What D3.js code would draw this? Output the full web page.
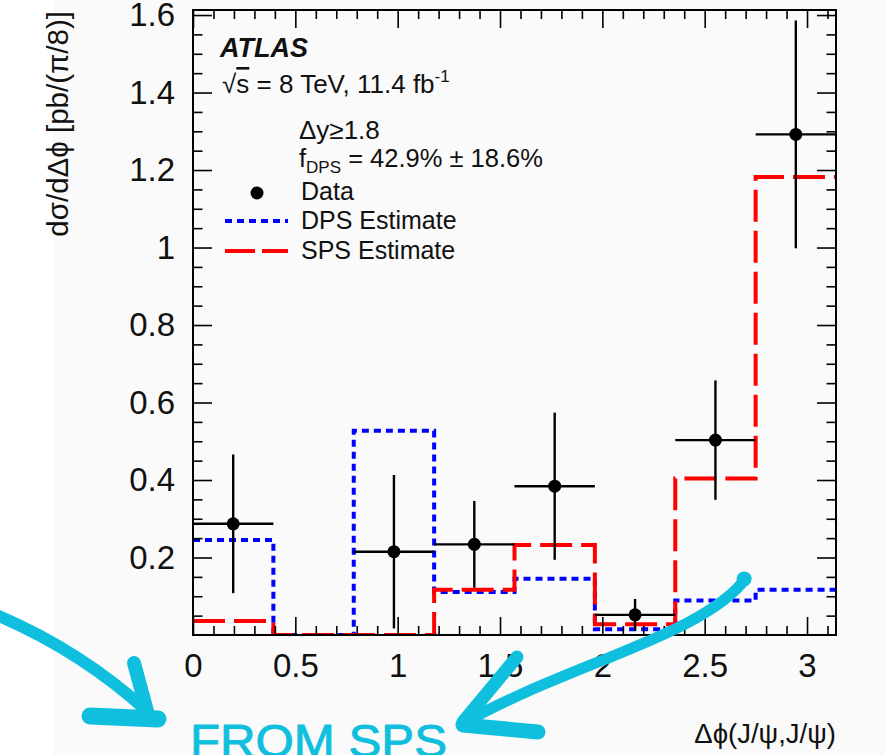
<!DOCTYPE html>
<html>
<head>
<meta charset="utf-8">
<script src="https://cdn.jsdelivr.net/npm/d3@7"></script>
<style>
  html, body { margin: 0; padding: 0; background: #ffffff; }
  svg { display: block; }
  text { font-family: "Liberation Sans", Arial, Helvetica, sans-serif; fill: #111; }
</style>
</head>
<body>
<svg id="chart" width="885" height="755"></svg>
<script>
// Δφ bins of width π/8 (lower edges)
const binLow = [0, 0.3927, 0.7854, 1.1781, 1.5708, 1.9635, 2.3562, 2.7489];
const binWidth = 0.3927;

// Measured cross section per bin (null = no point drawn)
const dataValues = [0.287, null, 0.215, 0.234, 0.384, 0.052, 0.503, 1.292];
const dataErrors = [0.179, null, 0.198, 0.112, 0.190, 0.041, 0.154, 0.294];

// Template estimates
const dpsValues = [0.245, 0, 0.527, 0.111, 0.145, 0.015, 0.089, 0.117];
const spsValues = [0.036, 0, 0, 0.117, 0.232, 0.028, 0.404, 1.182];

// Axis ticks and labels
const xMajor = [0, 0.5, 1, 1.5, 2, 2.5, 3];
const xTickLabels = ["0", "0.5", "1", "1.5", "2", "2.5", "3"];
const xMinor = [0.1, 0.2, 0.3, 0.4, 0.6, 0.7, 0.8, 0.9, 1.1, 1.2, 1.3, 1.4, 1.6, 1.7, 1.8, 1.9,
                2.1, 2.2, 2.3, 2.4, 2.6, 2.7, 2.8, 2.9, 3.1];
const yMajor = [0.2, 0.4, 0.6, 0.8, 1.0, 1.2, 1.4, 1.6];
const yTickLabels = ["0.2", "0.4", "0.6", "0.8", "1", "1.2", "1.4", "1.6"];
const yMinor = [0.05, 0.1, 0.15, 0.25, 0.3, 0.35, 0.45, 0.5, 0.55, 0.65, 0.7, 0.75, 0.85, 0.9, 0.95,
                1.05, 1.1, 1.15, 1.25, 1.3, 1.35, 1.45, 1.5, 1.55];

const svg = d3.select("#chart");
const L = 193, R = 836, T = 10, B = 635;

const x = d3.scaleLinear().domain([0, Math.PI]).range([L, R]);
const y = d3.scaleLinear().domain([0, 1.613]).range([B, T]);

// page background
svg.append("rect").attr("x", 0).attr("y", 0).attr("width", 885).attr("height", 755).attr("fill", "#ffffff");
svg.append("rect").attr("x", 53).attr("y", 0).attr("width", 832).attr("height", 755).attr("fill", "#fafafa");

svg.append("defs").append("clipPath").attr("id", "plotClip")
  .append("rect").attr("x", L).attr("y", T).attr("width", R - L).attr("height", B - T);

const plot = svg.append("g").attr("clip-path", "url(#plotClip)");

// step outline of a binned histogram
function stepPoints(values) {
  const pts = [];
  values.forEach((v, i) => {
    pts.push([x(binLow[i]), y(v)]);
    pts.push([x(binLow[i] + binWidth), y(v)]);
  });
  return pts;
}
const line = d3.line();

plot.append("path")
  .attr("d", line(stepPoints(dpsValues)))
  .attr("fill", "none").attr("stroke", "#0000ff").attr("stroke-width", 4)
  .attr("stroke-dasharray", "7 5");

plot.append("path")
  .attr("d", line(stepPoints(spsValues)))
  .attr("fill", "none").attr("stroke", "#ff0000").attr("stroke-width", 4)
  .attr("stroke-dasharray", "32 9");

// data points with error bars
const pts = dataValues.map((v, i) => ({ v, e: dataErrors[i], i })).filter(d => d.v !== null);
const dg = plot.append("g");
dg.selectAll("line.h").data(pts).join("line")
  .attr("x1", d => x(binLow[d.i])).attr("x2", d => x(binLow[d.i] + binWidth))
  .attr("y1", d => y(d.v)).attr("y2", d => y(d.v))
  .attr("stroke", "#000").attr("stroke-width", 2.4);
dg.selectAll("line.v").data(pts).join("line")
  .attr("x1", d => x(binLow[d.i] + binWidth / 2)).attr("x2", d => x(binLow[d.i] + binWidth / 2))
  .attr("y1", d => y(d.v + d.e)).attr("y2", d => y(Math.max(0, d.v - d.e)))
  .attr("stroke", "#000").attr("stroke-width", 2.4);
dg.selectAll("circle").data(pts).join("circle")
  .attr("cx", d => x(binLow[d.i] + binWidth / 2)).attr("cy", d => y(d.v))
  .attr("r", 6.5).attr("fill", "#000");

// axes with inward ticks on all four sides
function styleAxis(g) {
  g.select(".domain").remove();
  g.selectAll(".tick line").attr("stroke", "#000").attr("stroke-width", 1.6);
  g.selectAll("text").attr("font-size", 33).attr("fill", "#111")
    .attr("font-family", "Liberation Sans, Arial, sans-serif");
}
svg.append("g").attr("transform", `translate(0,${B})`)
  .call(d3.axisBottom(x).tickValues(xMajor).tickFormat((d, i) => xTickLabels[i])
    .tickSizeInner(-18).tickSizeOuter(0).tickPadding(19))
  .call(styleAxis);
svg.append("g").attr("transform", `translate(0,${B})`)
  .call(d3.axisBottom(x).tickValues(xMinor).tickFormat("").tickSizeInner(-9).tickSizeOuter(0))
  .call(styleAxis);
svg.append("g").attr("transform", `translate(0,${T})`)
  .call(d3.axisTop(x).tickValues(xMajor).tickFormat("").tickSizeInner(-18).tickSizeOuter(0))
  .call(styleAxis);
svg.append("g").attr("transform", `translate(0,${T})`)
  .call(d3.axisTop(x).tickValues(xMinor).tickFormat("").tickSizeInner(-9).tickSizeOuter(0))
  .call(styleAxis);

svg.append("g").attr("transform", `translate(${L},0)`)
  .call(d3.axisLeft(y).tickValues(yMajor).tickFormat((d, i) => yTickLabels[i])
    .tickSizeInner(-19).tickSizeOuter(0).tickPadding(18))
  .call(styleAxis);
svg.append("g").attr("transform", `translate(${L},0)`)
  .call(d3.axisLeft(y).tickValues(yMinor).tickFormat("").tickSizeInner(-9.5).tickSizeOuter(0))
  .call(styleAxis);
svg.append("g").attr("transform", `translate(${R},0)`)
  .call(d3.axisRight(y).tickValues(yMajor).tickFormat("").tickSizeInner(-19).tickSizeOuter(0))
  .call(styleAxis);
svg.append("g").attr("transform", `translate(${R},0)`)
  .call(d3.axisRight(y).tickValues(yMinor).tickFormat("").tickSizeInner(-9.5).tickSizeOuter(0))
  .call(styleAxis);

// frame
svg.append("rect").attr("x", L).attr("y", T).attr("width", R - L).attr("height", B - T)
  .attr("fill", "none").attr("stroke", "#000").attr("stroke-width", 2);

// axis titles
svg.append("text")
  .attr("transform", `translate(68,${T + 1}) rotate(-90)`)
  .attr("text-anchor", "end").attr("font-size", 29.5)
  .text("dσ/dΔϕ [pb/(π/8)]");
svg.append("text")
  .attr("x", R).attr("y", 743).attr("text-anchor", "end").attr("font-size", 27.5)
  .text("Δϕ(J/ψ,J/ψ)");

// labels inside the frame
svg.append("text").attr("x", 220).attr("y", 57)
  .attr("font-size", 27).attr("font-weight", "bold").attr("font-style", "italic")
  .text("ATLAS");

const lumi = svg.append("text").attr("x", 222).attr("y", 93).attr("font-size", 26);
lumi.append("tspan").text("√");
lumi.append("tspan").attr("text-decoration", "overline").text("s");
lumi.append("tspan").text(" = 8 TeV, 11.4 fb");
lumi.append("tspan").attr("font-size", 17).attr("dy", -11).text("-1");

svg.append("text").attr("x", 299).attr("y", 139).attr("font-size", 26).text("Δy≥1.8");

const fdps = svg.append("text").attr("x", 299).attr("y", 167).attr("font-size", 25.5);
fdps.append("tspan").text("f");
fdps.append("tspan").attr("font-size", 17).attr("dy", 6).text("DPS");
fdps.append("tspan").attr("dy", -6).text(" = 42.9% ± 18.6%");

// legend
svg.append("circle").attr("cx", 257).attr("cy", 193).attr("r", 6.5).attr("fill", "#000");
svg.append("text").attr("x", 301).attr("y", 200).attr("font-size", 25).text("Data");
svg.append("line").attr("x1", 225).attr("x2", 288).attr("y1", 221).attr("y2", 221)
  .attr("stroke", "#0000ff").attr("stroke-width", 4).attr("stroke-dasharray", "7 5");
svg.append("text").attr("x", 301).attr("y", 229).attr("font-size", 25).text("DPS Estimate");
svg.append("line").attr("x1", 225).attr("x2", 288).attr("y1", 251).attr("y2", 251)
  .attr("stroke", "#ff0000").attr("stroke-width", 4).attr("stroke-dasharray", "30 7");
svg.append("text").attr("x", 301).attr("y", 259).attr("font-size", 25).text("SPS Estimate");

// hand-drawn annotation
const cyan = "#10bfdd";
const ann = svg.append("g").attr("fill", "none").attr("stroke", cyan)
  .attr("stroke-linecap", "round").attr("stroke-linejoin", "round");
// left arrow
ann.append("path").attr("d", "M -6,614 Q 80,650 148,712").attr("stroke-width", 12);
ann.append("path").attr("d", "M 134,663 L 147,711").attr("stroke-width", 14);
ann.append("path").attr("d", "M 90,716 L 158,719").attr("stroke-width", 17);
// right arrow
ann.append("path").attr("d", "M 746,578 C 705,635 565,665 464,723").attr("stroke-width", 11);
ann.append("circle").attr("cx", 744).attr("cy", 579).attr("r", 7.5).attr("fill", cyan).attr("stroke", "none");
ann.append("path").attr("d", "M 517,657 L 463,722").attr("stroke-width", 13);
ann.append("path").attr("d", "M 463,725 L 538,732").attr("stroke-width", 15);

svg.append("text").attr("x", 190).attr("y", 757)
  .attr("font-family", "Lato, 'Open Sans', sans-serif").attr("font-size", 46)
  .attr("textLength", 257).attr("lengthAdjust", "spacingAndGlyphs")
  .style("fill", cyan).style("stroke", cyan).style("stroke-width", 0.9)
  .style("stroke-linejoin", "round")
  .text("FROM SPS");
</script>
</body>
</html>
